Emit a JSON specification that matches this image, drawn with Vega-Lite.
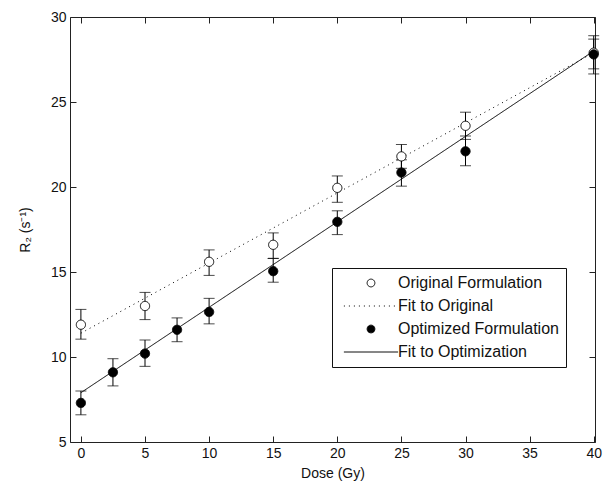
{
  "$schema": "https://vega.github.io/schema/vega-lite/v6.json",
  "width": 525,
  "height": 425,
  "autosize": {"type": "none"},
  "padding": {"left": 70, "top": 17, "right": 8, "bottom": 42},
  "background": "white",
  "config": {
    "view": {"stroke": "#222", "strokeWidth": 1},
    "font": "Liberation Sans",
    "axis": {
      "labelFont": "Liberation Sans", "labelFontSize": 14, "labelColor": "#111",
      "titleFont": "Liberation Sans", "titleFontSize": 14, "titleFontWeight": "normal", "titleColor": "#111",
      "domain": false, "grid": false, "tickColor": "#222", "tickSize": -6, "tickWidth": 1
    },
    "legend": {
      "orient": "none", "legendX": 262, "legendY": 251,
      "strokeColor": "#111", "fillColor": "white", "padding": 7,
      "labelFont": "Liberation Sans", "labelFontSize": 16, "labelColor": "#111", "labelLimit": 300,
      "symbolSize": 60, "symbolStrokeColor": "#000", "symbolStrokeWidth": 1,
      "symbolOffset": 24, "labelOffset": 19, "rowPadding": 7
    }
  },
  "datasets": {
    "meas": [
      {"dose": 0, "r2": 11.9, "lo": 11.05, "hi": 12.8, "series": "Original Formulation"},
      {"dose": 5, "r2": 13.0, "lo": 12.2, "hi": 13.8, "series": "Original Formulation"},
      {"dose": 10, "r2": 15.6, "lo": 14.8, "hi": 16.3, "series": "Original Formulation"},
      {"dose": 15, "r2": 16.6, "lo": 15.8, "hi": 17.3, "series": "Original Formulation"},
      {"dose": 20, "r2": 19.95, "lo": 19.1, "hi": 20.65, "series": "Original Formulation"},
      {"dose": 25, "r2": 21.8, "lo": 21.1, "hi": 22.5, "series": "Original Formulation"},
      {"dose": 30, "r2": 23.6, "lo": 22.8, "hi": 24.4, "series": "Original Formulation"},
      {"dose": 40, "r2": 27.9, "lo": 26.95, "hi": 28.9, "series": "Original Formulation"},
      {"dose": 0, "r2": 7.3, "lo": 6.6, "hi": 8.0, "series": "Optimized Formulation"},
      {"dose": 2.5, "r2": 9.1, "lo": 8.3, "hi": 9.9, "series": "Optimized Formulation"},
      {"dose": 5, "r2": 10.2, "lo": 9.45, "hi": 11.0, "series": "Optimized Formulation"},
      {"dose": 7.5, "r2": 11.6, "lo": 10.9, "hi": 12.3, "series": "Optimized Formulation"},
      {"dose": 10, "r2": 12.65, "lo": 11.95, "hi": 13.45, "series": "Optimized Formulation"},
      {"dose": 15, "r2": 15.05, "lo": 14.4, "hi": 15.8, "series": "Optimized Formulation"},
      {"dose": 20, "r2": 17.95, "lo": 17.2, "hi": 18.6, "series": "Optimized Formulation"},
      {"dose": 25, "r2": 20.85, "lo": 20.05, "hi": 21.6, "series": "Optimized Formulation"},
      {"dose": 30, "r2": 22.1, "lo": 21.25, "hi": 23.0, "series": "Optimized Formulation"},
      {"dose": 40, "r2": 27.8, "lo": 26.65, "hi": 28.7, "series": "Optimized Formulation"}
    ],
    "fits": [
      {"dose": 0, "fit": 11.4, "series": "Fit to Original"},
      {"dose": 40, "fit": 27.9, "series": "Fit to Original"},
      {"dose": 0, "fit": 7.9, "series": "Fit to Optimization"},
      {"dose": 40, "fit": 28.0, "series": "Fit to Optimization"}
    ]
  },
  "resolve": {"axis": {"x": "independent", "y": "independent"}},
  "layer": [
    {
      "data": {"name": "meas"},
      "mark": {"type": "rule", "color": "#000", "strokeWidth": 1},
      "encoding": {
        "x": {"field": "dose", "type": "quantitative",
              "scale": {"domain": [-0.85, 40.1], "nice": false, "zero": false},
              "axis": {"orient": "bottom", "values": [0,5,10,15,20,25,30,35,40], "title": "Dose (Gy)", "labelPadding": 10, "titlePadding": 6}},
        "y": {"field": "lo", "type": "quantitative",
              "scale": {"domain": [5, 30], "nice": false, "zero": false},
              "axis": {"orient": "left", "values": [5,10,15,20,25,30], "title": "R₂ (s⁻¹)", "labelPadding": 10, "titlePadding": 18}},
        "y2": {"field": "hi"}
      }
    },
    {
      "data": {"name": "meas"},
      "mark": {"type": "tick", "orient": "horizontal", "size": 11, "thickness": 1, "color": "#000"},
      "encoding": {
        "x": {"field": "dose", "type": "quantitative", "axis": null},
        "y": {"field": "lo", "type": "quantitative", "axis": null}
      }
    },
    {
      "data": {"name": "meas"},
      "mark": {"type": "tick", "orient": "horizontal", "size": 11, "thickness": 1, "color": "#000"},
      "encoding": {
        "x": {"field": "dose", "type": "quantitative", "axis": null},
        "y": {"field": "hi", "type": "quantitative", "axis": null}
      }
    },
    {
      "data": {"name": "fits"},
      "mark": {"type": "line", "color": "#000", "strokeWidth": 1},
      "encoding": {
        "x": {"field": "dose", "type": "quantitative",
              "axis": {"orient": "top", "values": [0,5,10,15,20,25,30,35,40], "labels": false, "title": null}},
        "y": {"field": "fit", "type": "quantitative",
              "axis": {"orient": "right", "values": [5,10,15,20,25,30], "labels": false, "title": null}},
        "strokeDash": {"field": "series", "type": "nominal",
              "scale": {"domain": ["Original Formulation", "Fit to Original", "Optimized Formulation", "Fit to Optimization"],
                        "range": [[1,0],[1,4],[1,0],[1,0]]},
              "legend": {"title": null,
                         "encode": {"symbols": {"update": {"stroke": {"value": "#000"}, "strokeWidth": {"value": 1}, "opacity": {"value": 1}}}}}}
      }
    },
    {
      "data": {"name": "meas"},
      "mark": {"type": "point", "filled": true, "stroke": "#000", "strokeWidth": 1, "opacity": 1, "size": 85},
      "encoding": {
        "x": {"field": "dose", "type": "quantitative", "axis": null},
        "y": {"field": "r2", "type": "quantitative", "axis": null},
        "shape": {"field": "series", "type": "nominal",
              "scale": {"domain": ["Original Formulation", "Fit to Original", "Optimized Formulation", "Fit to Optimization"],
                        "range": ["circle", "M-7,0H7", "circle", "M-7,0H7"]},
              "legend": {"title": null,
                         "encode": {"symbols": {"update": {"stroke": {"value": "#000"}, "strokeWidth": {"value": 1}, "opacity": {"value": 1}}}}}},
        "fill": {"field": "series", "type": "nominal",
              "scale": {"domain": ["Original Formulation", "Fit to Original", "Optimized Formulation", "Fit to Optimization"],
                        "range": ["white", "white", "black", "white"]},
              "legend": {"title": null,
                         "encode": {"symbols": {"update": {"stroke": {"value": "#000"}, "strokeWidth": {"value": 1}, "opacity": {"value": 1}}}}}},
        "strokeDash": {"field": "series", "type": "nominal",
              "legend": {"title": null,
                         "encode": {"symbols": {"update": {"stroke": {"value": "#000"}, "strokeWidth": {"value": 1}, "opacity": {"value": 1}}}}}}
      }
    }
  ]
}
